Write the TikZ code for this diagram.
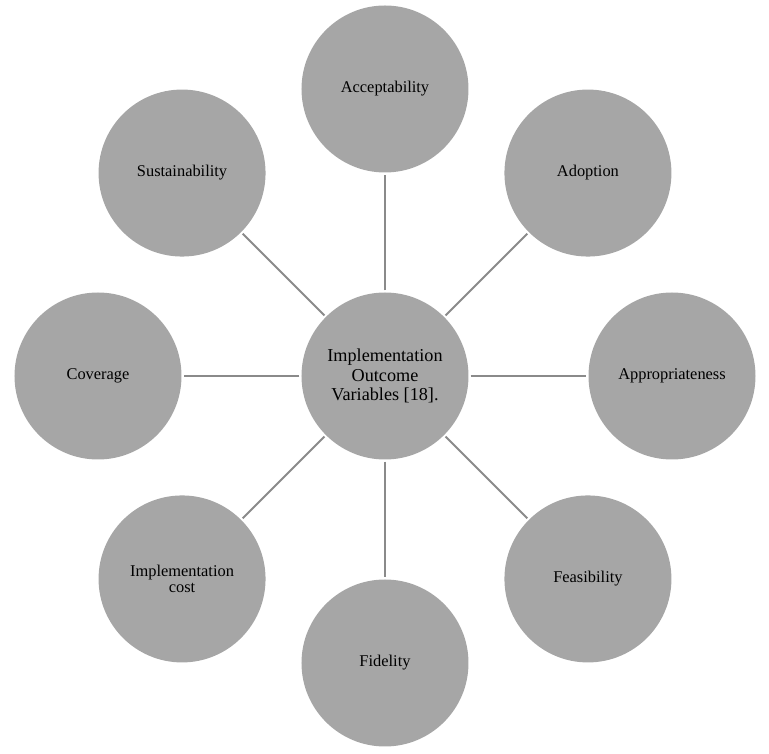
\documentclass[tikz,border=0pt]{standalone}
\usepackage{fontspec}
\setmainfont{Liberation Serif}
\usepackage{tikz}
\definecolor{bulle}{HTML}{A6A6A6}
\definecolor{trait}{HTML}{8A8A8A}

\begin{document}
\begin{tikzpicture}[x=1pt,y=1pt]
	\tikzstyle{petit}=[circle,fill=bulle,minimum size=167pt,inner sep=0pt,align=center,font=\fontsize{16.4}{15.5}\selectfont]
	\tikzstyle{grand}=[circle,fill=bulle,minimum size=167pt,inner sep=0pt,align=center,font=\fontsize{18.2}{19.5}\selectfont]
	\tikzstyle{lien}=[draw=trait,line width=2pt,shorten <=2pt,shorten >=2pt]
	\useasboundingbox (-385,-378) rectangle (384,376);
	\node[grand] (C) at (0,0){Implementation\\Outcome\\Variables [18].};
	\node[petit] (A) at (90:287){Acceptability};
	\node[petit] (B) at (45:287){Adoption};
	\node[petit] (D) at (0:287){Appropriateness};
	\node[petit] (E) at (-45:287){Feasibility};
	\node[petit] (F) at (-90:287){Fidelity};
	\node[petit] (G) at (-135:287){Implementation\\cost};
	\node[petit] (H) at (180:287){Coverage};
	\node[petit] (I) at (135:287){Sustainability};
	\foreach \n in {A,B,D,E,F,G,H,I}
		\draw[lien] (C) -- (\n);
\end{tikzpicture}
\end{document}
